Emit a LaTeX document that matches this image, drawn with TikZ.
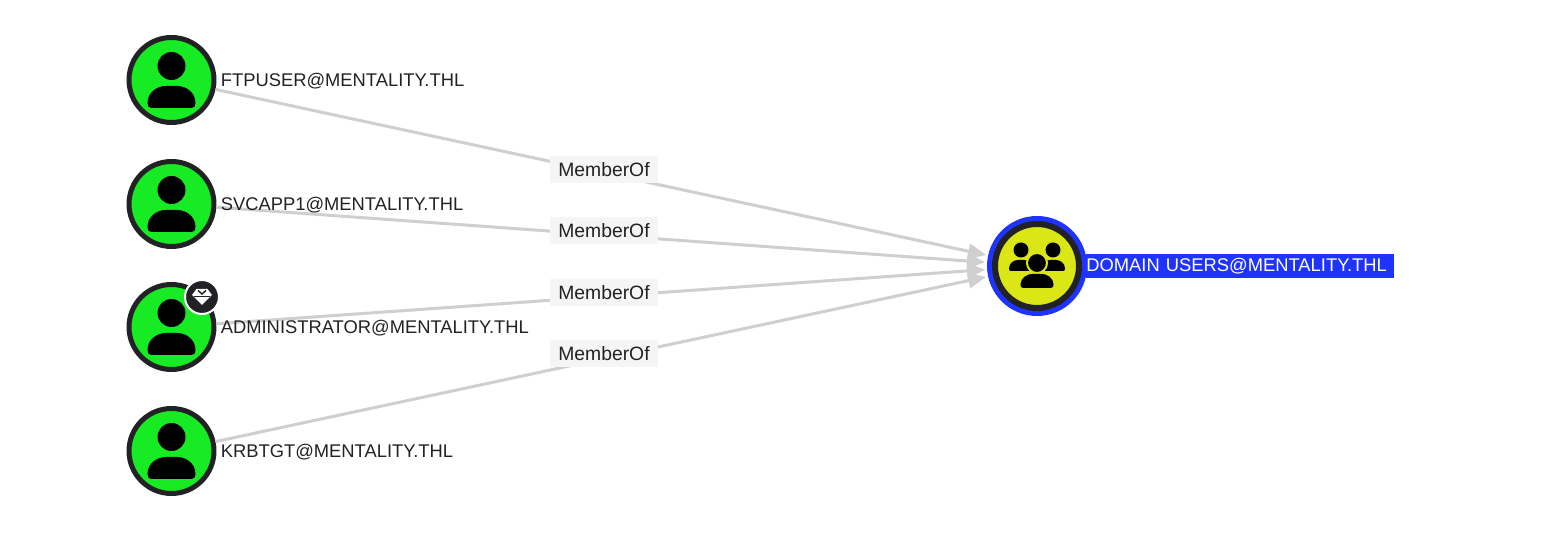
\documentclass[tikz,border=0pt]{standalone}
\usepackage{fontspec}
\setmainfont{Liberation Sans}
\usetikzlibrary{
	arrows.meta,
	positioning,
}
\definecolor{ringdark}{HTML}{222226}
\definecolor{usergreen}{HTML}{17EB24}
\definecolor{groupyellow}{HTML}{DBE617}
\definecolor{ringblue}{HTML}{1F33FF}
\definecolor{edgegray}{HTML}{CFCFCF}
\definecolor{tagbg}{HTML}{F5F5F5}
\tikzset{user node/.style={draw=ringdark,fill=usergreen,circle,inner sep=0mm,line width=.1cm,minimum size=1.7cm}}
\tikzset{group node/.style={draw=ringdark,fill=groupyellow,circle,inner sep=0mm,line width=.12cm,minimum size=1.68cm,outer sep=.16cm,preaction={draw=ringblue,line width=.32cm}}}
\tikzset{account/.style={inner sep=0mm,text=ringdark,font=\fontsize{10.45}{12}\selectfont}}
\tikzset{edge label/.style={fill=tagbg,text=ringdark,inner sep=0mm,minimum width=2.16cm,minimum height=.54cm,font=\fontsize{11}{12}\selectfont}}
\tikzset{member/.style={draw=edgegray,line width=.06cm,-{Triangle[length=.36cm,width=.3cm]},shorten >=.04cm}}
\tikzset{
	bodyicon/.pic={\fill (-20,-28) -- (20,-28) .. controls (23,-28) and (24,-26) .. (24,-23) .. controls (24,-12) and (14,-6) .. (6,-6) -- (-6,-6) .. controls (-14,-6) and (-24,-12) .. (-24,-23) .. controls (-24,-26) and (-23,-28) .. (-20,-28) -- cycle;},
}
\begin{document}
\begin{tikzpicture}[x=.02cm,y=.02cm]
\useasboundingbox (0,0) rectangle (1545,543);
\fill[white] (0,0) rectangle (1545,543);

\node[user node](ftp) at(171.5,463) {};
\node[user node](svc) at(171.5,339) {};
\node[user node](adm) at(171.5,216) {};
\node[user node](krb) at(171.5,92) {};
\node[group node](dom) at(1037,277) {};

% edges
\draw[member] (ftp) -- (dom);
\draw[member] (svc) -- (dom);
\draw[member] (adm) -- (dom);
\draw[member] (krb) -- (dom);

\node[edge label](l1) at(604,373.5) {MemberOf};
\node[edge label](l2) at(604,312) {MemberOf};
\node[edge label](l3) at(604,250.5) {MemberOf};
\node[edge label](l4) at(604,189) {MemberOf};

% user icons
\foreach \n in {ftp,svc,adm,krb}{
	\fill (\n) ++(0,14) circle[radius=14];
	\path (\n) pic {bodyicon};
}

% group icon
\fill (dom) ++(-16,16) circle[radius=7.5];
\fill (dom) ++(16,16) circle[radius=7.5];
\path (dom) ++(-16,9) pic[xscale=.5,yscale=.5] {bodyicon};
\path (dom) ++(16,9) pic[xscale=.5,yscale=.5] {bodyicon};
\fill[draw=groupyellow,line width=.04cm] (dom) ++(0,3) circle[radius=10];
\fill[groupyellow] (dom) ++(-19,-10) rectangle ++(38,3);
\path (dom) ++(0,-4) pic[xscale=.69,yscale=.64] {bodyicon};

% admin badge
\node[circle,fill=ringdark,draw=white,line width=.04cm,minimum size=.68cm,inner sep=0mm](badge) at(202,246) {};
\fill[white] (badge) ++(-5.5,8) -- ++(11,0) -- ++(4.5,-6) -- ++(-10,-10) -- ++(-10,10) -- cycle;
\draw[ringdark,line width=.03cm] (badge) ++(-4,6.5) -- ++(4,-3.5) -- ++(4,3.5);
\draw[ringdark,line width=.016cm] (badge) ++(-8,.5) -- ++(16,0);

% names
\node[account,right=.08cm of ftp,yshift=-.02cm](ftpname) {FTPUSER@MENTALITY.THL};
\node[account,right=.08cm of svc,yshift=-.02cm](svcname) {SVCAPP1@MENTALITY.THL};
\node[account,right=.08cm of adm,yshift=-.02cm](admname) {ADMINISTRATOR@MENTALITY.THL};
\node[account,right=.08cm of krb,yshift=-.02cm](krbname) {KRBTGT@MENTALITY.THL};
\node[account,fill=ringblue,text=white,minimum height=.48cm,text width=6.16cm,anchor=west](domname) at(1086,277) {DOMAIN USERS@MENTALITY.THL};

\end{tikzpicture}
\end{document}
